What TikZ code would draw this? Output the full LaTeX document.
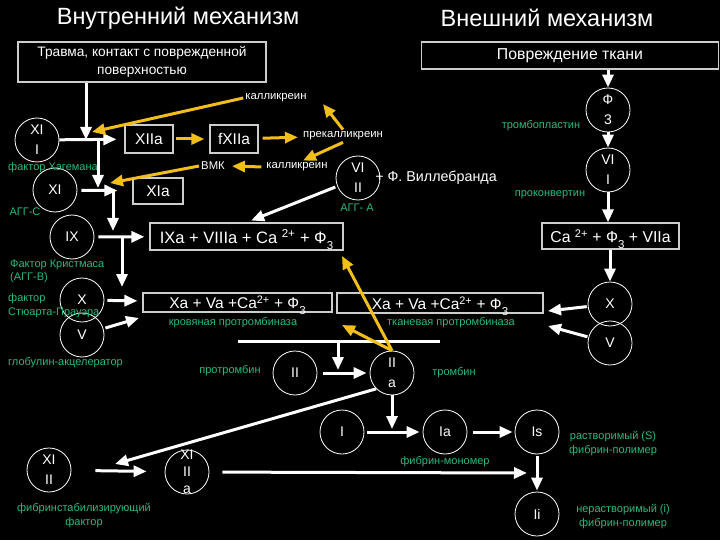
\documentclass[tikz,border=0pt]{standalone}
\usepackage{fontspec}
\setmainfont{Liberation Sans}
\usetikzlibrary{arrows.meta,calc}

\definecolor{grn}{RGB}{45,185,125}
\definecolor{gold}{RGB}{242,190,25}
\definecolor{frame}{RGB}{205,205,205}
\newcommand\phisub{Ф\smash{\raisebox{-0.38em}{\fontsize{11.5}{11.5}\selectfont 3}}}

\begin{document}
\begin{tikzpicture}[x=1pt,y=-1pt,
  factor/.style={draw=white, line width=0.8pt, circle, minimum size=44pt, inner sep=0pt, text=white, align=center, font=\fontsize{14}{20}\selectfont},
  ebox/.style={draw=frame, line width=1.2pt, text=white, inner sep=0pt, align=center, font=\fontsize{15.5}{17}\selectfont},
  glab/.style={text=grn, inner sep=1pt, align=center, font=\fontsize{11}{14}\selectfont},
  wlab/.style={text=white, inner sep=2pt, font=\fontsize{11.3}{13}\selectfont},
  wline/.style={draw=white, line width=3pt},
  warr/.style={wline, -{Triangle[length=13pt,width=11pt]}},
  yarr/.style={draw=gold, line width=3pt, -{Triangle[length=13pt,width=11pt]}}]

\fill[black] (0,0) rectangle (720,540);
\useasboundingbox (0,0) rectangle (720,540);

% titles
\node[text=white, font=\fontsize{23.5}{26}\selectfont] (titleL) at (178,18) {Внутренний механизм};
\node[text=white, font=\fontsize{23.5}{26}\selectfont] (titleR) at (547,18) {Внешний механизм};

% boxes
\node[ebox, minimum width=248pt, minimum height=40pt, font=\fontsize{13.7}{18}\selectfont] (trauma) at (142,62) {Травма, контакт с поврежденной\\поверхностью};
\node[ebox, minimum width=297pt, minimum height=27pt, font=\fontsize{15.8}{18}\selectfont] (damage) at (570,55.5) {Повреждение ткани};
\node[ebox, minimum width=48pt, minimum height=28pt, font=\fontsize{15.5}{18}\selectfont] (XIIa) at (149,139) {XIIa};
\node[ebox, minimum width=48pt, minimum height=28pt, font=\fontsize{15.5}{18}\selectfont] (fXIIa) at (234,139) {fXIIa};
\node[ebox, minimum width=50pt, minimum height=26pt, font=\fontsize{15.5}{18}\selectfont] (XIa) at (158,191) {XIa};
\node[ebox, minimum width=193pt, minimum height=27pt, font=\fontsize{16.5}{18}\selectfont] (IXa) at (246.5,236.5) {IXa + VIIIa + Ca \textsuperscript{2+} + \phisub};
\node[ebox, minimum width=189pt, minimum height=19pt] (XaL) at (237.5,302.5) {Xa + Va +Ca\textsuperscript{2+} + \phisub};
\node[ebox, minimum width=206pt, minimum height=20pt] (XaR) at (440,303) {Xa + Va +Ca\textsuperscript{2+} + \phisub};
\node[ebox, minimum width=137pt, minimum height=26pt, font=\fontsize{15.8}{18}\selectfont] (Ca) at (610.5,236) {Ca \textsuperscript{2+} + \phisub{} + VIIa};

% factors
\node[factor] (XII) at (37,140) {XI\\I};
\node[factor] (XI) at (55,190) {XI};
\node[factor] (IX) at (72,237) {IX};
\node[factor] (Xl) at (82,300) {X};
\node[factor] (Vl) at (82,335) {V};
\node[factor] (VIII) at (358,178) {VI\\II};
\node[factor] (II) at (295,373) {II};
\node[factor] (IIa) at (392,373) {II\\a};
\node[factor] (I) at (342,432) {I};
\node[factor] (Ia) at (445,432) {Ia};
\node[factor] (Is) at (537,432) {Is};
\node[factor] (Ii) at (537,514) {Ii};
\node[factor] (XIII) at (49,470) {XI\\II};
\node[factor, label={[text=white, align=center, font=\fontsize{14}{17}\selectfont]center:XI\\II\\a}] (XIIIa) at (187,472) {};
\node[factor] (F3) at (608,110) {Ф\\3};
\node[factor] (VII) at (608,170) {VI\\I};
\node[factor] (Xr) at (610,304) {X};
\node[factor] (Vr) at (610,343) {V};

% white labels
\node[wlab] (kal1) at (276,98) {калликреин};
\node[wlab] (prekal) at (343,136) {прекалликреин};
\node[wlab] (kal2) at (297,167) {калликреин};
\node[wlab] (vmk) at (213,166) {ВМК};
\node[text=white, font=\fontsize{14.3}{17}\selectfont] (vwf) at (436,178) {+ Ф. Виллебранда};

% green labels
\node[glab] (hag) at (53,168) {фактор Хагемана};
\node[glab] (aggc) at (25,212) {АГГ-С};
\node[glab, anchor=west] (krist) at (9,265) {Фактор Кристмаса};
\node[glab, anchor=west] (aggb) at (9,278) {(АГГ-В)};
\node[glab, anchor=west] (fst) at (7,299) {фактор};
\node[glab, anchor=west] (stu) at (7,313) {Стюарта-Прауэра};
\node[glab, anchor=west] (glob) at (7,363) {глобулин-акцелератор};
\node[glab] (agga) at (357,208) {АГГ- А};
\node[glab] (trpl) at (541,126) {тромбопластин};
\node[glab] (prok) at (550,195) {проконвертин};
\node[glab] (blood) at (233,323) {кровяная протромбиназа};
\node[glab] (tissue) at (451,323) {тканевая протромбиназа};
\node[glab] (prot) at (230,371) {протромбин};
\node[glab] (thr) at (454,373) {тромбин};
\node[glab] (mono) at (445,462) {фибрин-мономер};
\node[glab] (sol) at (613,444) {растворимый (S)\\фибрин-полимер};
\node[glab] (insol) at (623,517) {нерастворимый (i)\\фибрин-полимер};
\node[glab] (fsf) at (84,516) {фибринстабилизирующий\\фактор};

% junctions and free ends
\coordinate (j1) at (86,140);
\coordinate (j2) at (98,140);
\coordinate (j3) at (98,188);
\coordinate (j4) at (113,190);
\coordinate (j5) at (113,231);
\coordinate (j6) at (122,237);
\coordinate (j7) at (122,287);
\coordinate (vltip) at (139,318);
\coordinate (xrtip) at (548,311);
\coordinate (vrtip) at (548,326);
\coordinate (h1) at (238,341);
\coordinate (h2) at (440,341);
\coordinate (h3) at (338,341);
\coordinate (h4) at (338,370);
\coordinate (k1) at (392,429);
\coordinate (xiiitip) at (115,464);
\coordinate (fmtip) at (527,473);
\coordinate (kal1tip) at (92,132);
\coordinate (kalup) at (323,104);
\coordinate (vmktip) at (110,183);
\coordinate (ixatip) at (342,256);
\coordinate (xatip) at (342,325);

% white connectors
\draw[warr] (trauma.south -| j1) -- (j1);
\draw[warr, shorten >=8pt] (XII) -- (XIIa);
\draw[warr] (j2) -- (j3);
\draw[warr, shorten <=4pt, shorten >=15pt] (XI) -- (XIa);
\draw[warr] (j4) -- (j5);
\draw[warr, shorten <=4pt, shorten >=5pt] (IX) -- (IXa);
\draw[warr] (j6) -- (j7);
\draw[warr, shorten <=3pt, shorten >=5pt] (Xl) -- (XaL);
\draw[warr, shorten <=2pt] (Vl) -- (vltip);
\draw[warr, shorten <=2pt, shorten >=5pt] (VIII) -- (IXa.north);
\draw[warr] (damage.south -| F3) -- (F3);
\draw[warr] (F3) -- (VII);
\draw[warr] (VII) -- (VII |- Ca.north);
\draw[warr] (Ca.south -| Xr) -- (Xr);
\draw[warr, shorten <=1pt] (Xr) -- (xrtip);
\draw[warr, shorten <=1pt] (Vr) -- (vrtip);
\draw[wline] (h1) -- (h2);
\draw[warr] (h3) -- (h4);
\draw[warr, shorten <=6pt, shorten >=3pt] (II) -- (IIa);
\draw[warr] (IIa.south) -- (k1);
\draw[warr, shorten <=3pt, shorten >=3pt] (I) -- (Ia);
\draw[warr, shorten <=6pt, shorten >=2pt] (Ia) -- (Is);
\draw[warr, shorten <=2pt, shorten >=1pt] (Is) -- (Ii);
\draw[warr] (IIa.south west) -- (xiiitip);
\draw[warr, shorten <=24pt, shorten >=18pt] (XIII) -- (XIIIa);
\draw[warr, shorten <=13pt] (XIIIa) -- (fmtip);

% yellow connectors
\draw[yarr] (kal1.west) -- (kal1tip);
\draw[yarr, shorten <=2pt, shorten >=5pt] (XIIa) -- (fXIIa);
\draw[yarr, shorten <=4pt, shorten >=3pt] (fXIIa) -- (prekal);
\draw[yarr] (prekal.north) -- (kalup);
\draw[yarr] (prekal.south) -- ([xshift=6pt]kal2.north);
\draw[yarr, shorten <=3pt, shorten >=5pt] (kal2.west) -- (vmk.east);
\draw[yarr] (vmk.west) -- (vmktip);
\draw[yarr] (IIa.north) -- (ixatip);
\draw[yarr] (IIa.north) -- (xatip);

\end{tikzpicture}
\end{document}
